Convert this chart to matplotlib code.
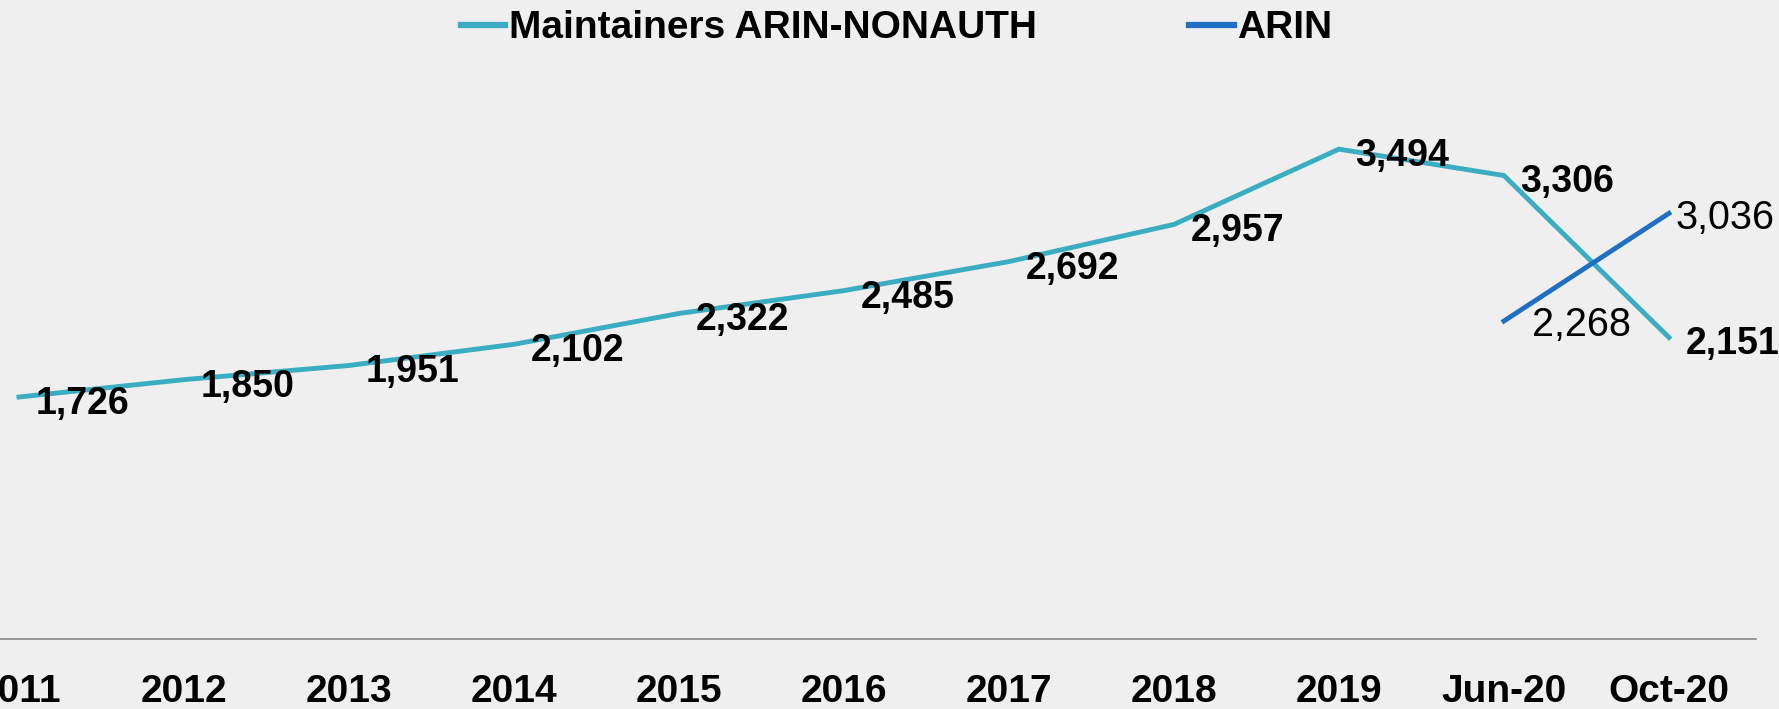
import numpy as np
import matplotlib.pyplot as plt
from matplotlib.lines import Line2D

plt.rcParams['font.family'] = ['Liberation Sans', 'DejaVu Sans']

categories = ['2011', '2012', '2013', '2014', '2015', '2016', '2017', '2018', '2019', 'Jun-20', 'Oct-20']
nonauth = [1726, 1850, 1951, 2102, 2322, 2485, 2692, 2957, 3494, 3306, 2151]
arin = [np.nan, np.nan, np.nan, np.nan, np.nan, np.nan, np.nan, np.nan, np.nan, 2268, 3036]

teal = '#3AADC2'
blue = '#1F6FC2'
bg = '#EFEFEF'

fig = plt.figure(figsize=(17.79, 7.09), dpi=100, facecolor=bg)
ax = fig.add_axes([0, 0.0987, 0.987, 0.791])
ax.set_facecolor(bg)

x = np.arange(len(categories))
ax.plot(x, nonauth, color=teal, lw=3.5, solid_joinstyle='miter')
ax.plot(x, arin, color=blue, lw=3.5)

for xi, v in zip(x, nonauth):
    ax.annotate(f'{v:,}', (xi, v), xytext=(12, -5), textcoords='offset points',
                ha='left', va='center', fontsize=27, fontweight='bold', color='black')

# the two ARIN labels sit at different distances from their points
arin_dx = {9: 20, 10: 5}
for xi, v in zip(x, arin):
    if np.isnan(v):
        continue
    ax.annotate(f'{int(v):,}', (xi, v), xytext=(arin_dx[xi], -3), textcoords='offset points',
                ha='left', va='center', fontsize=28.5, color='black')

ax.set_xlim(-0.115, 10.527)
ax.set_ylim(0, 4000)
ax.set_xticks(x)
ax.set_xticklabels(categories, fontsize=28, fontweight='bold')
ax.tick_params(axis='x', length=0, pad=25)
ax.set_yticks([])
for s in ['top', 'right', 'left']:
    ax.spines[s].set_visible(False)
ax.spines['bottom'].set_color('#8A8A8A')
ax.spines['bottom'].set_linewidth(1.2)

handles = [Line2D([], [], color=teal, lw=4.5), Line2D([], [], color=blue, lw=4.5)]
fig.legend(handles, ['Maintainers ARIN-NONAUTH', 'ARIN'], loc='center', bbox_to_anchor=(0.504, 0.96),
           ncol=2, frameon=False, handlelength=1.15, handletextpad=0.1, columnspacing=3.9,
           prop={'size': 28, 'weight': 'bold'})

fig.savefig('out.png', dpi=100, facecolor=bg)
